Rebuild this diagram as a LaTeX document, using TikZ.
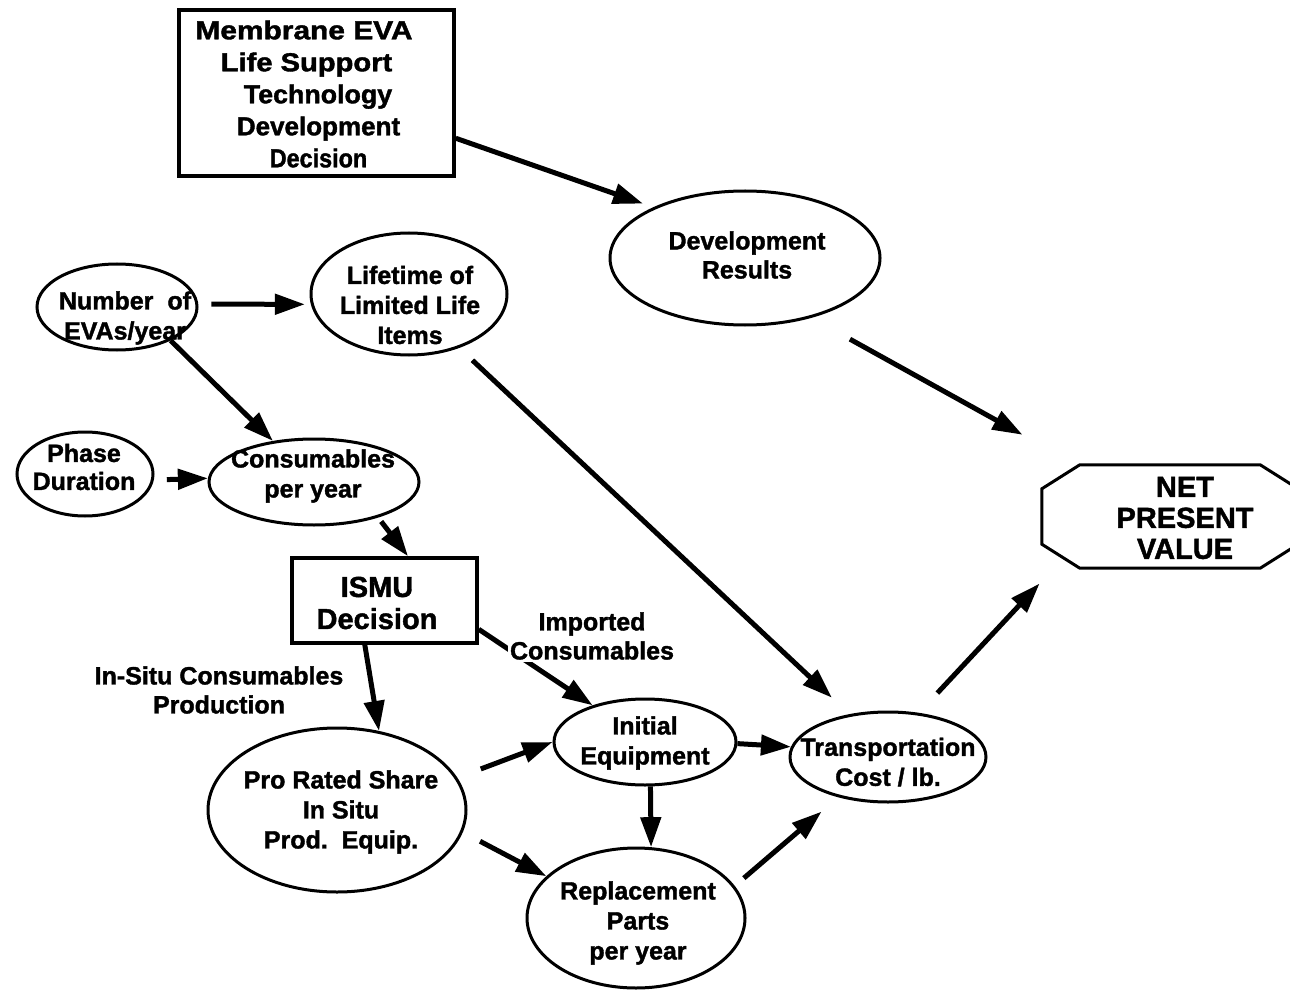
\documentclass[tikz,border=0pt]{standalone}
\usepackage{fontspec}
\setmainfont{Liberation Sans}[BoldFeatures={FakeBold=1.5}]
\usetikzlibrary{arrows.meta,shapes.geometric}
\begin{document}
\begin{tikzpicture}[x=1pt,y=-1pt,
  ell/.style={draw, ellipse, line width=3pt, inner sep=0pt},
  box/.style={draw, rectangle, line width=3.5pt, inner sep=0pt},
  txt/.style={align=center, inner sep=0pt, font=\bfseries\fontsize{25}{30}\selectfont},
  arr/.style={line width=5pt, -{Triangle[length=30pt,width=20pt]}},
  lbl/.style={align=center, inner sep=2pt, fill=white, font=\bfseries\fontsize{25}{29}\selectfont}
]
\useasboundingbox (0,0) rectangle (1290,992);

% boxes
\node[box, minimum width=275pt, minimum height=166pt] (top) at (316.5,93) {};
\node[box, minimum width=185pt, minimum height=85pt] (ismu) at (384.5,600.5) {};

% ellipses
\node[ell, minimum width=270pt, minimum height=134pt] (dev) at (745,258) {};
\node[ell, minimum width=196pt, minimum height=122pt] (life) at (409,294) {};
\node[ell, minimum width=160pt, minimum height=86pt] (num) at (117,307) {};
\node[ell, minimum width=136pt, minimum height=84pt] (phase) at (85,474) {};
\node[ell, minimum width=210pt, minimum height=86pt] (cons) at (314,482) {};
\node[ell, minimum width=182pt, minimum height=86pt] (init) at (645,742) {};
\node[ell, minimum width=196pt, minimum height=90pt] (trans) at (888,757) {};
\node[ell, minimum width=258pt, minimum height=164pt] (pro) at (337,810) {};
\node[ell, minimum width=218pt, minimum height=140pt] (repl) at (636,918) {};

% net present value (octagon)
\node[inner sep=0pt, minimum width=256pt, minimum height=103pt] (npv) at (1170,516.5) {};
\draw[line width=3pt] ([xshift=38pt]npv.north west) -- ([xshift=-38pt]npv.north east)
  -- ([yshift=-24pt]npv.north east) -- ([yshift=24pt]npv.south east)
  -- ([xshift=-38pt]npv.south east) -- ([xshift=38pt]npv.south west)
  -- ([yshift=24pt]npv.south west) -- ([yshift=-24pt]npv.north west) -- cycle;

% texts
\node[txt, font=\bfseries\fontsize{26}{32}\selectfont] (topT) at (304,94)
  {\scalebox{1.15}[1]{Membrane EVA}\\\hspace*{5pt}\scalebox{1.12}[1]{Life Support}\\\hspace*{28pt}\scalebox{1.03}[1]{Technology}\\\hspace*{29pt}Development\\\hspace*{29pt}\scalebox{0.9}[1]{Decision}};
\node[txt, font=\bfseries\fontsize{29}{32}\selectfont] (ismuT) at (377,603) {ISMU\\Decision};
\node[txt, font=\bfseries\fontsize{25}{29}\selectfont] (devT) at (747,255) {Development\\Results};
\node[txt] (lifeT) at (410,305) {Lifetime of\\Limited Life\\Items};
\node[txt] (numT) at (125,318) {Number\hspace{14pt}of\\EVAs/year};
\node[txt, font=\bfseries\fontsize{25}{28}\selectfont] (phaseT) at (84,467) {Phase\\Duration};
\node[txt] (consT) at (313,476) {Consumables\\per year};
\node[txt, font=\bfseries\fontsize{29}{31}\selectfont] (npvT) at (1185,518) {NET\\PRESENT\\VALUE};
\node[txt] (initT) at (645,743) {Initial\\Equipment};
\node[txt] (transT) at (888,762) {Transportation\\Cost / lb.};
\node[txt] (proT) at (341,812) {Pro Rated Share\\In Situ\\Prod.\ \ Equip.};
\node[txt] (replT) at (638,923) {Replacement\\Parts\\per year};

% connectors
\draw[arr, shorten >=11pt] (top.-18.5) -- (dev.151.2);
\draw[arr, shorten <=44pt, shorten >=62pt] (dev.-42.2) -- (npv.151.3);
\draw[arr, shorten <=13pt, shorten >=6pt] (num.2) -- (life.186.5);
\draw[arr] (num.-32.8) -- (cons.135);
\draw[arr, shorten <=13pt] (phase.-5.6) -- (cons.178.8);
\draw[arr, shorten <=5pt] (cons.-29.6) -- (ismu.62.1);
\draw[arr] (ismu.-114.7) -- (pro.62.9);
\draw[arr] (ismu.-17.7) -- (init.145.6);
\draw[arr, shorten <=18pt, shorten >=24pt] (life.-47.3) -- (trans.132.5);
\draw[arr, shorten <=27pt, shorten >=21pt] (trans.55.9) -- (npv.204.1);
\draw[arr] (init.-1.9) -- (trans.174.6);
\draw[arr] (init.-83.7) -- (repl.78.5);
\draw[arr, shorten <=25pt] (pro.15.6) -- (init.180.6);
\draw[arr, shorten <=19.5pt] (pro.-10.8) -- (repl.155);
\draw[arr, shorten <=12pt, shorten >=22pt] (repl.18.8) -- (trans.219);

% connector labels
\node[lbl] (imp) at (592,636) {Imported\\Consumables};
\node[lbl, fill=none] (insitu) at (219,690) {In-Situ Consumables\\Production};
\end{tikzpicture}
\end{document}
